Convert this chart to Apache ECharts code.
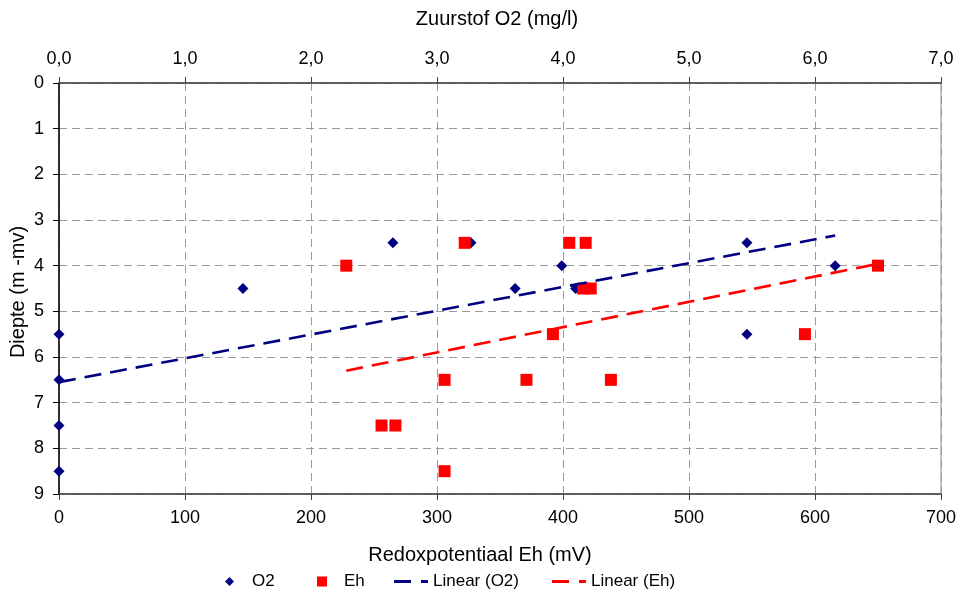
<!DOCTYPE html>
<html>
<head>
<meta charset="utf-8">
<script src="https://cdn.jsdelivr.net/npm/echarts@6/dist/echarts.min.js"></script>
<style>
  html, body { margin: 0; padding: 0; background: #fff; }
  #chart { width: 961px; height: 594px; }
</style>
</head>
<body>
<div id="chart"></div>
<script>
// Oxygen (top axis, mg/l) against depth
const o2Values = [0, 0, 0, 0, 1.46, 2.65, 3.27, 3.62, 3.99, 4.10, 5.46, 5.46, 6.16];
const o2Depths = [5.5, 6.5, 7.5, 8.5, 4.5, 3.5, 3.5, 4.5, 4.0, 4.5, 3.5, 5.5, 4.0];

// Redox potential (bottom axis, mV) against depth
const ehValues = [228, 322, 405, 418, 416, 422, 392, 306, 371, 438, 256, 267, 306, 592, 650];
const ehDepths = [4.0, 3.5, 3.5, 3.5, 4.5, 4.5, 5.5, 6.5, 6.5, 6.5, 7.5, 7.5, 8.5, 5.5, 4.0];

// Linear trend lines: [x, depth] at both ends
const trendO2 = [[0, 6.55], [6.16, 3.34]];
const trendEh = [[228, 6.30], [650, 3.96]];

const seriesNames = ['O2', 'Eh', 'Linear (O2)', 'Linear (Eh)'];
const axisTitles = {
  bottom: 'Redoxpotentiaal Eh (mV)',
  top: 'Zuurstof O2 (mg/l)',
  left: 'Diepte (m -mv)'
};

const FONT = '"Liberation Sans", Arial, sans-serif';
const NAVY = '#000080';
const RED = '#FF0000';
const GRID_LINE = { show: true, lineStyle: { color: '#9a9a9a', type: [8, 5], width: 1 } };
// dashed-line legend key: long dash, gap, short dash
const DASH_ICON = 'path://M0,0H17V3H0Z M27,0H34V3H27Z';

const zip = (xs, ys) => xs.map((x, i) => [x, ys[i]]);

const chart = echarts.init(document.getElementById('chart'), null, { renderer: 'canvas' });

function legendItem(name, left, icon, w, h, padLeft, color) {
  return {
    data: [{ name: name, icon: icon, itemStyle: { color: color, opacity: 1 } }],
    left: left,
    top: 573,
    padding: 0,
    itemWidth: w,
    itemHeight: h,
    selectedMode: false,
    textStyle: { fontFamily: FONT, fontSize: 17, color: '#000', padding: [0, 0, 0, padLeft] }
  };
}

chart.setOption({
  animation: false,
  backgroundColor: '#fff',
  grid: {
    left: 59, right: 20, top: 83, bottom: 100,
    show: true, borderColor: '#8c8c8c', borderWidth: 1, backgroundColor: 'transparent'
  },
  xAxis: [
    {
      type: 'value', position: 'bottom', min: 0, max: 700, interval: 100,
      axisLine: { show: true, onZero: false, lineStyle: { color: '#404040', width: 1.5 } },
      axisTick: { show: true, length: 6, lineStyle: { color: '#404040' } },
      axisLabel: { margin: 15, fontFamily: FONT, fontSize: 18, color: '#000' },
      splitLine: GRID_LINE
    },
    {
      type: 'value', position: 'top', min: 0, max: 7, interval: 1,
      axisLine: { show: true, onZero: false, lineStyle: { color: '#404040', width: 1.5 } },
      axisTick: { show: true, length: 6, lineStyle: { color: '#404040' } },
      axisLabel: {
        margin: 15, fontFamily: FONT, fontSize: 18, color: '#000',
        formatter: v => v.toFixed(1).replace('.', ',')
      },
      splitLine: { show: false }
    }
  ],
  yAxis: {
    type: 'value', inverse: true, min: 0, max: 9, interval: 1,
    axisLine: { show: true, onZero: false, lineStyle: { color: '#000', width: 1.5 } },
    axisTick: { show: true, length: 6, lineStyle: { color: '#000' } },
    axisLabel: { margin: 15, fontFamily: FONT, fontSize: 18, color: '#000' },
    splitLine: GRID_LINE
  },
  legend: [
    legendItem(seriesNames[0], 225, 'diamond', 9, 9, 13, NAVY),
    legendItem(seriesNames[1], 317, 'rect', 10, 10, 12, RED),
    legendItem(seriesNames[2], 394, DASH_ICON, 34, 3, 0, NAVY),
    legendItem(seriesNames[3], 552, DASH_ICON, 34, 3, 0, RED)
  ],
  graphic: [
    {
      type: 'text', x: 480, y: 555,
      style: { text: axisTitles.bottom, font: '20px ' + FONT, fill: '#000', align: 'center', verticalAlign: 'middle' }
    },
    {
      type: 'text', x: 497, y: 19,
      style: { text: axisTitles.top, font: '20px ' + FONT, fill: '#000', align: 'center', verticalAlign: 'middle' }
    },
    {
      type: 'text', x: 18, y: 292, rotation: Math.PI / 2,
      style: { text: axisTitles.left, font: '20px ' + FONT, fill: '#000', align: 'center', verticalAlign: 'middle' }
    }
  ],
  series: [
    {
      name: seriesNames[0], type: 'scatter', xAxisIndex: 1, yAxisIndex: 0,
      symbol: 'diamond', symbolSize: 11, z: 2,
      itemStyle: { color: NAVY, opacity: 1 },
      data: zip(o2Values, o2Depths)
    },
    {
      name: seriesNames[1], type: 'scatter', xAxisIndex: 0, yAxisIndex: 0,
      symbol: 'rect', symbolSize: 12, z: 3,
      itemStyle: { color: RED, opacity: 1 },
      data: zip(ehValues, ehDepths)
    },
    {
      name: seriesNames[2], type: 'line', xAxisIndex: 1, yAxisIndex: 0,
      symbol: 'none', z: 4, silent: true,
      lineStyle: { color: NAVY, width: 2.6, type: [17, 9] },
      itemStyle: { color: NAVY },
      data: trendO2
    },
    {
      name: seriesNames[3], type: 'line', xAxisIndex: 0, yAxisIndex: 0,
      symbol: 'none', z: 4, silent: true,
      lineStyle: { color: RED, width: 2.6, type: [17, 9] },
      itemStyle: { color: RED },
      data: trendEh
    }
  ]
});
</script>
</body>
</html>
